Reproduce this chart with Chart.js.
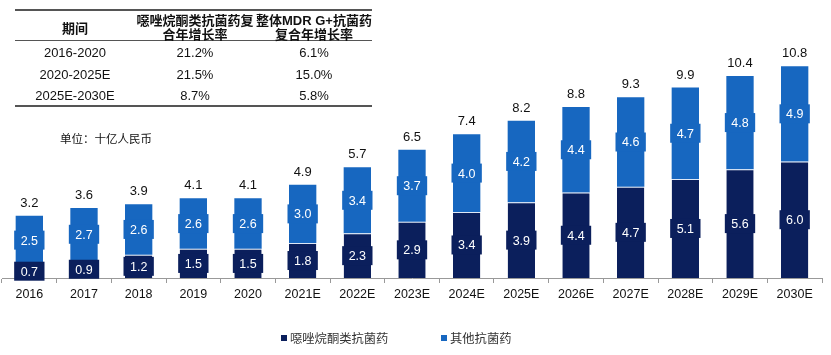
<!DOCTYPE html>
<html><head><meta charset="utf-8">
<script src="https://cdn.jsdelivr.net/npm/chart.js@4.4.1/dist/chart.umd.min.js"></script>
<style>
html,body{margin:0;padding:0;background:#fff;}
#wrap{position:relative;width:831px;height:355px;font-family:"Liberation Sans","Noto Sans CJK SC",sans-serif;color:#111;}
canvas{position:absolute;left:0;top:0;}
.t{position:absolute;font-size:13px;text-align:center;white-space:nowrap;line-height:14px;}
.b{font-weight:bold;}
.ln{position:absolute;left:15px;width:357px;background:#555;}
.leg{position:absolute;top:329px;font-size:12.3px;color:#333;white-space:nowrap;font-family:"Noto Sans CJK SC","Liberation Sans",sans-serif;}
.leg i{display:inline-block;width:6px;height:6px;margin-right:3px;vertical-align:2px;}
</style></head>
<body><div id="wrap">
<canvas id="c" width="831" height="355"></canvas>
<div id="tbl"></div>
<div class="t" style="left:60px;top:131px;text-align:left;font-size:11.5px;font-family:'Noto Sans CJK SC',sans-serif;">单位：十亿人民币</div>
<div class="leg" style="left:281px;"><i style="background:#0b1f5c"></i>噁唑烷酮类抗菌药</div>
<div class="leg" style="left:441px;"><i style="background:#1767c0"></i>其他抗菌药</div>
</div>
<script>
const categories = ['2016','2017','2018','2019','2020','2021E','2022E','2023E','2024E','2025E','2026E','2027E','2028E','2029E','2030E'];
const oxazolidinone = [0.7,0.9,1.2,1.5,1.5,1.8,2.3,2.9,3.4,3.9,4.4,4.7,5.1,5.6,6.0];
const otherAntibacterial = [2.5,2.7,2.6,2.6,2.6,3.0,3.4,3.7,4.0,4.2,4.4,4.6,4.7,4.8,4.9];
const totals = [3.2,3.6,3.9,4.1,4.1,4.9,5.7,6.5,7.4,8.2,8.8,9.3,9.9,10.4,10.8];
const seriesNames = ['噁唑烷酮类抗菌药','其他抗菌药'];
const tableHeader = ['期间','噁唑烷酮类抗菌药复\n合年增长率','整体MDR G+抗菌药\n复合年增长率'];
const tablePeriods = ['2016-2020','2020-2025E','2025E-2030E'];
const tableOxCagr = ['21.2%','21.5%','8.7%'];
const tableMdrCagr = ['6.1%','15.0%','5.8%'];

// table
const tbl = document.getElementById('tbl');
const colX = [75,195,314];
let html = '';
html += '<div class="ln" style="top:9px;height:2px"></div>';
html += '<div class="ln" style="top:40px;height:1px"></div>';
html += '<div class="ln" style="top:105px;height:2px"></div>';
tableHeader.forEach((h,i)=>{
  const lines = h.split('\n');
  if(lines.length===1){
    html += `<div class="t b" style="left:${colX[i]-60}px;width:120px;top:21px;font-family:'Noto Sans CJK SC',sans-serif">${lines[0]}</div>`;
  } else {
    html += `<div class="t b" style="left:${colX[i]-70}px;width:140px;top:14px;font-family:'Liberation Sans','Noto Sans CJK SC',sans-serif">${lines[0]}<br>${lines[1]}</div>`;
  }
});
tablePeriods.forEach((p,r)=>{
  const y = 46 + r*21.5;
  [p, tableOxCagr[r], tableMdrCagr[r]].forEach((v,i)=>{
    html += `<div class="t" style="left:${colX[i]-60}px;width:120px;top:${y}px">${v}</div>`;
  });
});
tbl.innerHTML = html;

const DARK = '#0b1f5c', LIGHT = '#1767c0';
const labelPlugin = {
  id:'labels',
  afterDatasetsDraw(chart){
    const ctx = chart.ctx;
    ctx.save();
    ctx.font = '12.5px "Liberation Sans", Arial, sans-serif';
    ctx.textAlign = 'center';
    ctx.textBaseline = 'middle';
    chart.data.datasets.forEach((ds,di)=>{
      const meta = chart.getDatasetMeta(di);
      meta.data.forEach((el,i)=>{
        const cy = (el.y + el.base)/2;
        const w = el.width + 3, h = 19;
        ctx.fillStyle = ds.backgroundColor;
        ctx.fillRect(el.x - w/2, cy - h/2, w, h);
        ctx.fillStyle = '#fff';
        ctx.fillText(ds.data[i].toFixed(1), el.x, cy+1);
      });
    });
    const top = chart.getDatasetMeta(1);
    ctx.fillStyle = '#111';
    ctx.font = '13px "Liberation Sans", Arial, sans-serif';
    top.data.forEach((el,i)=>{
      ctx.fillText(totals[i].toFixed(1), el.x, el.y - 12.5);
    });
    ctx.restore();
  }
};

new Chart(document.getElementById('c'), {
  type:'bar',
  data:{
    labels:categories,
    datasets:[
      {label:seriesNames[0], data:oxazolidinone, backgroundColor:DARK, borderColor:'rgba(220,230,245,0.9)', borderWidth:{top:1,left:0,right:0,bottom:0}, borderSkipped:false},
      {label:seriesNames[1], data:otherAntibacterial, backgroundColor:LIGHT, borderWidth:0}
    ]
  },
  options:{
    responsive:false, animation:false, devicePixelRatio:1,
    layout:{padding:{left:2,right:9,top:6,bottom:49}},
    datasets:{bar:{categoryPercentage:1, barPercentage:0.5}},
    plugins:{legend:{display:false}, tooltip:{enabled:false}},
    scales:{
      x:{stacked:true,
        grid:{display:true, drawOnChartArea:false, offset:true, tickLength:5, color:'#999'},
        border:{display:true,color:'#999'},
        ticks:{color:'#111', font:{size:12.5, family:'"Liberation Sans", Arial, sans-serif'}, padding:4, maxRotation:0}
      },
      y:{stacked:true, display:false, min:0, max:14}
    }
  },
  plugins:[labelPlugin]
});
</script>
</body></html>
